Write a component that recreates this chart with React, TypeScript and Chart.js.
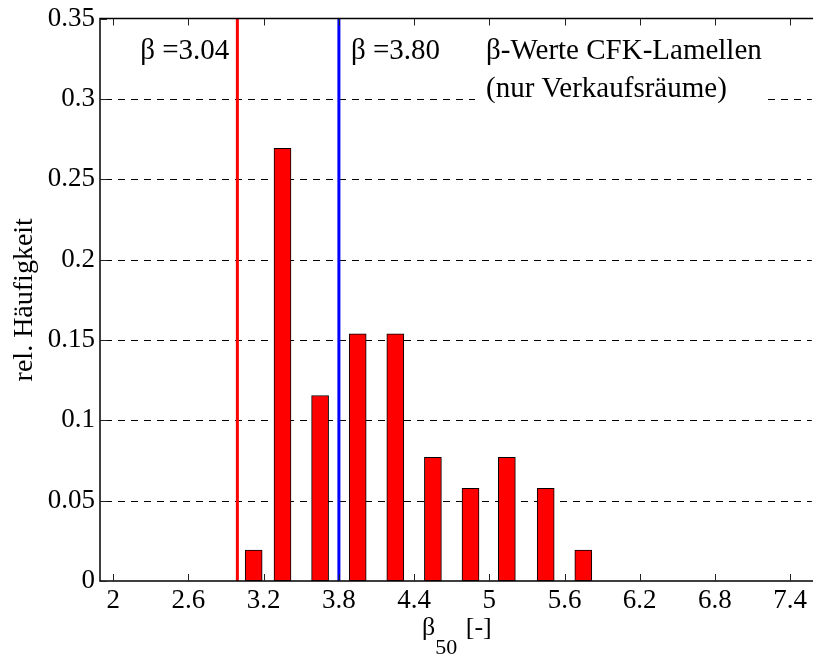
import React, { useEffect, useRef } from "react";
import { Chart, registerables } from "chart.js";

Chart.register(...registerables);

// ---- data ----
const binCenters = [3.12, 3.35, 3.65, 3.95, 4.25, 4.55, 4.85, 5.14, 5.45, 5.75];
const relFreq = [0.0192, 0.2692, 0.1154, 0.1538, 0.1538, 0.0769, 0.0577, 0.0769, 0.0577, 0.0192];
const xTickValues = [2, 2.6, 3.2, 3.8, 4.4, 5, 5.6, 6.2, 6.8, 7.4];
const yTickValues = [0, 0.05, 0.1, 0.15, 0.2, 0.25, 0.3, 0.35];
const xRange = [1.894, 7.573];
const yRange = [0, 0.35];
const redLineX = 2.99;
const blueLineX = 3.8;
const redLabel = "β =3.04";
const blueLabel = "β =3.80";
const noteLines = ["β-Werte CFK-Lamellen", "(nur Verkaufsräume)"];
const noteAnchor = { x: 4.974, y1: 0.3247, y2: 0.3011 };
const labelY = 0.3247;
const yTitle = "rel. Häufigkeit";
const xTitleMain = "β";
const xTitleSub = "50";
const xTitleTail = " [-]";

const FONT = "'Liberation Serif', 'Times New Roman', serif";

const matlabPlugin = {
  id: "matlabDecor",
  beforeDatasetsDraw(chart: any) {
    const { ctx, chartArea: ca, scales } = chart;
    const y = scales.y;
    ctx.save();
    ctx.strokeStyle = "#000";
    ctx.lineWidth = 1;
    ctx.setLineDash([7, 6]);
    yTickValues.forEach((v) => {
      if (v <= yRange[0] || v >= yRange[1]) return;
      const py = Math.round(y.getPixelForValue(v)) + 0.5;
      ctx.beginPath();
      ctx.moveTo(ca.left + 5, py);
      ctx.lineTo(ca.right, py);
      ctx.stroke();
    });
    ctx.setLineDash([]);
    // white background box of the note text
    ctx.font = `29px ${FONT}`;
    const nx = scales.x.getPixelForValue(noteAnchor.x);
    const w = Math.max(...noteLines.map((t) => ctx.measureText(t).width));
    const b1 = y.getPixelForValue(noteAnchor.y1);
    const b2 = y.getPixelForValue(noteAnchor.y2);
    ctx.fillStyle = "#fff";
    ctx.fillRect(nx - 11, b1 - 28, w + 15, b2 - b1 + 38);
    ctx.restore();
  },
  afterDatasetsDraw(chart: any) {
    const { ctx, chartArea: ca, scales } = chart;
    const x = scales.x;
    const y = scales.y;
    ctx.save();
    // annotations
    ctx.fillStyle = "#000";
    ctx.font = `29px ${FONT}`;
    ctx.textBaseline = "alphabetic";
    ctx.textAlign = "right";
    ctx.fillText(redLabel, x.getPixelForValue(redLineX) - 8, y.getPixelForValue(labelY));
    ctx.textAlign = "left";
    ctx.fillText(blueLabel, x.getPixelForValue(blueLineX) + 12, y.getPixelForValue(labelY));
    const nx = x.getPixelForValue(noteAnchor.x);
    ctx.fillText(noteLines[0], nx, y.getPixelForValue(noteAnchor.y1));
    ctx.fillText(noteLines[1], nx, y.getPixelForValue(noteAnchor.y2));

    // axes box
    ctx.strokeStyle = "#000";
    ctx.lineWidth = 1.5;
    ctx.beginPath();
    ctx.moveTo(ca.right + 2, ca.top);
    ctx.lineTo(ca.left, ca.top);
    ctx.lineTo(ca.left, ca.bottom);
    ctx.lineTo(ca.right + 2, ca.bottom);
    ctx.stroke();

    // inward tick marks
    ctx.lineWidth = 1;
    ctx.strokeStyle = "#222";
    const tl = 7;
    xTickValues.forEach((v) => {
      const px = Math.round(x.getPixelForValue(v)) + 0.5;
      ctx.beginPath();
      ctx.moveTo(px, ca.bottom);
      ctx.lineTo(px, ca.bottom - tl);
      ctx.moveTo(px, ca.top);
      ctx.lineTo(px, ca.top + tl);
      ctx.stroke();
    });
    yTickValues.forEach((v) => {
      const py = Math.round(y.getPixelForValue(v)) + 0.5;
      ctx.beginPath();
      ctx.moveTo(ca.left, py);
      ctx.lineTo(ca.left + tl, py);
      ctx.stroke();
    });

    // y title
    ctx.fillStyle = "#000";
    ctx.font = `28px ${FONT}`;
    ctx.save();
    ctx.translate(25, (ca.top + ca.bottom) / 2);
    ctx.rotate(-Math.PI / 2);
    ctx.textAlign = "center";
    ctx.textBaseline = "middle";
    ctx.fillText(yTitle, 0, 0);
    ctx.restore();

    // x title with subscript
    const mainFont = `26px ${FONT}`;
    const subFont = `22px ${FONT}`;
    ctx.textAlign = "left";
    ctx.textBaseline = "alphabetic";
    ctx.font = mainFont;
    const wMain = ctx.measureText(xTitleMain).width;
    const wTail = ctx.measureText(xTitleTail).width;
    ctx.font = subFont;
    const wSub = ctx.measureText(xTitleSub).width;
    const total = wMain + wSub + wTail;
    const cx = (ca.left + ca.right) / 2;
    const base = ca.bottom + 54;
    let sx = cx - total / 2;
    ctx.font = mainFont;
    ctx.fillText(xTitleMain, sx, base);
    sx += wMain;
    ctx.font = subFont;
    ctx.fillText(xTitleSub, sx, base + 19);
    sx += wSub;
    ctx.font = mainFont;
    ctx.fillText(xTitleTail, sx + 2, base);
    ctx.restore();
  },
};

export default function App() {
  const canvasRef = useRef<HTMLCanvasElement | null>(null);

  useEffect(() => {
    const canvas = canvasRef.current;
    if (!canvas) return;
    const fmt = (v: number) => String(Number(Number(v).toFixed(2)));
    const chart = new Chart(canvas, {
      type: "bar",
      data: {
        datasets: [
          {
            type: "bar",
            data: binCenters.map((c, i) => ({ x: c, y: relFreq[i] })),
            backgroundColor: "#ff0000",
            borderColor: "#000",
            borderWidth: 1,
            borderSkipped: false,
            barThickness: 17,
          } as any,
          {
            type: "line",
            data: [
              { x: redLineX, y: yRange[0] },
              { x: redLineX, y: yRange[1] },
            ],
            borderColor: "#ff0000",
            borderWidth: 3,
            pointRadius: 0,
          } as any,
          {
            type: "line",
            data: [
              { x: blueLineX, y: yRange[0] },
              { x: blueLineX, y: yRange[1] },
            ],
            borderColor: "#0000ff",
            borderWidth: 3,
            pointRadius: 0,
          } as any,
        ],
      },
      options: {
        responsive: false,
        animation: false,
        devicePixelRatio: 1,
        layout: { padding: { top: 16, left: 0, right: 0, bottom: 0 } },
        plugins: { legend: { display: false }, tooltip: { enabled: false } },
        scales: {
          x: {
            type: "linear",
            min: xRange[0],
            max: xRange[1],
            offset: false,
            grid: { display: false, drawTicks: false },
            border: { display: false },
            afterBuildTicks: (s: any) => {
              s.ticks = xTickValues.map((v) => ({ value: v }));
            },
            afterFit: (s: any) => {
              s.height = 76;
            },
            ticks: {
              autoSkip: false,
              maxRotation: 0,
              padding: 6,
              color: "#000",
              font: { family: FONT, size: 27, lineHeight: 1 },
              callback: (v: any) => fmt(v),
            },
          },
          y: {
            type: "linear",
            min: yRange[0],
            max: yRange[1],
            grid: { display: false, drawTicks: false },
            border: { display: false },
            afterBuildTicks: (s: any) => {
              s.ticks = yTickValues.map((v) => ({ value: v }));
            },
            afterFit: (s: any) => {
              s.width = 100;
            },
            ticks: {
              autoSkip: false,
              padding: 5,
              color: "#000",
              font: { family: FONT, size: 27, lineHeight: 1 },
              callback: (v: any) => fmt(v),
            },
          },
        },
      },
      plugins: [matlabPlugin],
    } as any);
    return () => chart.destroy();
  }, []);

  return (
    <div style={{ position: "absolute", left: 0, top: 0, width: 813, height: 657, background: "#fff" }}>
      <canvas ref={canvasRef} width={813} height={657} style={{ display: "block" }} />
    </div>
  );
}
